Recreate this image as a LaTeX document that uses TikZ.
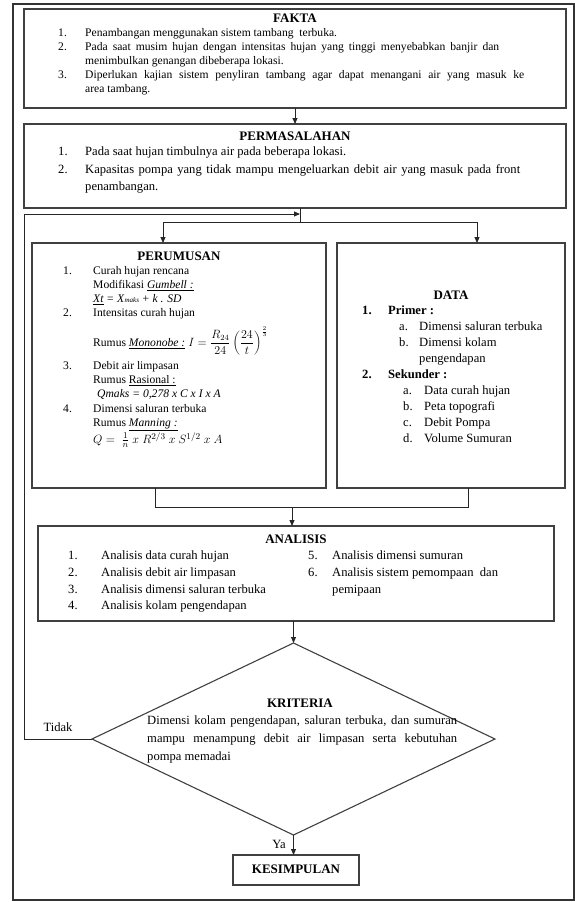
\documentclass[tikz,border=0pt]{standalone}
\usepackage{fontspec}
\setmainfont{Liberation Serif}
\usetikzlibrary{arrows.meta,shapes.geometric}
\begin{document}
\begin{tikzpicture}[x=1pt,y=-1pt,
  box/.style={draw=black!75, line width=1.1pt, inner sep=0pt, outer sep=0pt},
  con/.style={draw=black!85, line width=0.9pt},
  arr/.style={con, -{Triangle[length=6pt,width=5pt]}},
  txt/.style={anchor=west, inner sep=0pt, text height=8pt, text depth=3pt, font=\fontsize{11.6}{13}\selectfont},
  big/.style={txt, font=\fontsize{12.6}{14}\selectfont},
  bigb/.style={txt, font=\fontsize{12.6}{14}\selectfont\bfseries},
  ttl/.style={anchor=center, inner sep=0pt, text height=9pt, text depth=3pt, font=\fontsize{13}{15}\selectfont\bfseries},
]
\useasboundingbox (0,0) rectangle (575,902);
\draw[black!80, line width=1.2pt] (13,4) rectangle (574,900);

% boxes
\node[box, minimum width=542pt, minimum height=99pt] (fakta) at (295,58.5) {};
\node[box, minimum width=542pt, minimum height=84pt] (perma) at (295,166) {};
\node[box, minimum width=294pt, minimum height=245pt] (perum) at (179,365.5) {};
\node[box, minimum width=228pt, minimum height=245pt] (data) at (451,365.5) {};
\node[box, minimum width=516pt, minimum height=95pt] (anal) at (296,573.5) {};
\node[box, diamond, minimum width=403pt, minimum height=192pt] (krit) at (293.5,739) {};
\node[box, minimum width=126pt, minimum height=30pt] (kesim) at (296,870) {};

% FAKTA
\node[ttl] (fT) at (295,19) {FAKTA};
\node[txt] (f1n) at (58,34) {1.};
\node[txt] (f1) at (85,34) {Penambangan menggunakan sistem tambang\ \ terbuka.};
\node[txt] (f2n) at (58,48) {2.};
\node[txt] (f2) at (85,48) {\makebox[414pt][s]{Pada saat musim hujan dengan intensitas hujan yang tinggi menyebabkan banjir dan}};
\node[txt] (f2b) at (85,62) {menimbulkan genangan dibeberapa lokasi.};
\node[txt] (f3n) at (58,76) {3.};
\node[txt] (f3) at (85,76) {\makebox[439pt][s]{Diperlukan kajian sistem penyliran tambang agar dapat menangani air yang masuk ke}};
\node[txt] (f3b) at (85,90) {area tambang.};

% PERMASALAHAN
\node[ttl] (pT) at (295,137) {PERMASALAHAN};
\node[big] (p1n) at (58,153) {1.};
\node[big] (p1) at (85,153) {Pada saat hujan timbulnya air pada beberapa lokasi.};
\node[big] (p2n) at (58,171) {2.};
\node[big] (p2) at (85,171) {\makebox[435pt][s]{Kapasitas pompa yang tidak mampu mengeluarkan debit air yang masuk pada front}};
\node[big] (p2b) at (85,188) {penambangan.};

% PERUMUSAN
\node[ttl] (rT) at (179,257) {PERUMUSAN};
\node[txt] (r1n) at (63,272) {1.};
\node[txt] (r1) at (93,272) {Curah hujan rencana};
\node[txt] (r1b) at (93,286) {Modifikasi \underline{\textit{Gumbell :}}};
\node[txt] (r1c) at (93,300) {\textit{\underline{Xt} = X}{\fontsize{7}{8}\selectfont\textit{maks}}\textit{ + k . SD}};
\node[txt] (r2n) at (63,314) {2.};
\node[txt] (r2) at (93,314) {Intensitas curah hujan};
\node[txt] (r2b) at (93,344) {Rumus \underline{\textit{Mononobe :}} $\displaystyle I=\frac{R_{24}}{24}\left(\frac{24}{t}\right)^{\frac{2}{3}}$};
\node[txt] (r3n) at (63,367) {3.};
\node[txt] (r3) at (93,367) {Debit air limpasan};
\node[txt] (r3b) at (93,381) {Rumus \underline{Rasional :}};
\node[txt] (r3c) at (97,395) {\textit{Qmaks = 0,278 x C x I x A}};
\node[txt] (r4n) at (63,410) {4.};
\node[txt] (r4) at (93,410) {Dimensi saluran terbuka};
\node[txt] (r4b) at (93,424) {Rumus \underline{\textit{Manning :}}};
\node[txt, font=\fontsize{12.4}{14}\selectfont] (r4c) at (93,441) {$Q=\ \frac{1}{n}\ x\ R^{2/3}\ x\ S^{1/2}\ x\ A$};

% DATA
\node[ttl] (dT) at (451,296) {DATA};
\node[bigb] (d1n) at (362,312) {1.};
\node[bigb] (d1) at (388,312) {Primer :};
\node[big] (d1an) at (399,328) {a.};
\node[big] (d1a) at (419,328) {Dimensi saluran terbuka};
\node[big] (d1bn) at (399,344) {b.};
\node[big] (d1b) at (419,344) {Dimensi kolam};
\node[big] (d1c) at (419,360) {pengendapan};
\node[bigb] (d2n) at (362,376) {2.};
\node[bigb] (d2) at (388,376) {Sekunder :};
\node[big] (d2an) at (403,392) {a.};
\node[big] (d2a) at (424,392) {Data curah hujan};
\node[big] (d2bn) at (403,408) {b.};
\node[big] (d2b) at (424,408) {Peta topografi};
\node[big] (d2cn) at (403,424) {c.};
\node[big] (d2c) at (424,424) {Debit Pompa};
\node[big] (d2dn) at (403,440) {d.};
\node[big] (d2d) at (424,440) {Volume Sumuran};

% ANALISIS
\node[ttl] (aT) at (296,540) {ANALISIS};
\node[big] (a1n) at (68,557) {1.};
\node[big] (a1) at (101,557) {Analisis data curah hujan};
\node[big] (a2n) at (68,574) {2.};
\node[big] (a2) at (101,574) {Analisis debit air limpasan};
\node[big] (a3n) at (68,591) {3.};
\node[big] (a3) at (101,591) {Analisis dimensi saluran terbuka};
\node[big] (a4n) at (68,607) {4.};
\node[big] (a4) at (101,607) {Analisis kolam pengendapan};
\node[big] (a5n) at (308,557) {5.};
\node[big] (a5) at (332,557) {Analisis dimensi sumuran};
\node[big] (a6n) at (308,574) {6.};
\node[big] (a6) at (332,574) {Analisis sistem pemompaan\ \ dan};
\node[big] (a6b) at (332,591) {pemipaan};

% KRITERIA
\node[ttl] (kT) at (300,704) {KRITERIA};
\node[big] (k1) at (147,722) {\makebox[310pt][s]{Dimensi kolam pengendapan, saluran terbuka, dan sumuran}};
\node[big] (k2) at (147,740) {\makebox[310pt][s]{mampu menampung debit air limpasan serta kebutuhan}};
\node[big] (k3) at (147,758) {pompa memadai};

\node[big, anchor=center] (tidak) at (58,729) {Tidak};
\node[big, anchor=center] (ya) at (279,846) {Ya};
\node[ttl] (kesT) at (296,870) {KESIMPULAN};

% connectors
\draw[arr] (fakta.south) -- (perma.north);
\coordinate (j) at (300,222);
\coordinate (bl) at (163,222);
\coordinate (br) at (477,222);
\coordinate (lt) at (24,214);
\draw[con] (perma.south -| j) -- (j);
\draw[con] (bl) -- (br);
\draw[arr] (bl) -- (bl |- perum.north);
\draw[arr] (br) -- (br |- data.north);
\draw[arr] (krit.west) -- (krit.west -| lt) -- (lt) -- (lt -| j);
\coordinate (ml) at (155,507);
\coordinate (mr) at (468,507);
\coordinate (mc) at (292,507);
\draw[con] (ml |- perum.south) -- (ml) -- (mr) -- (mr |- data.south);
\draw[arr] (mc) -- (mc |- anal.north);
\draw[arr] (anal.south -| krit.north) -- (krit.north);
\draw[arr] (krit.south) -- (krit.south |- kesim.north);
\end{tikzpicture}
\end{document}
